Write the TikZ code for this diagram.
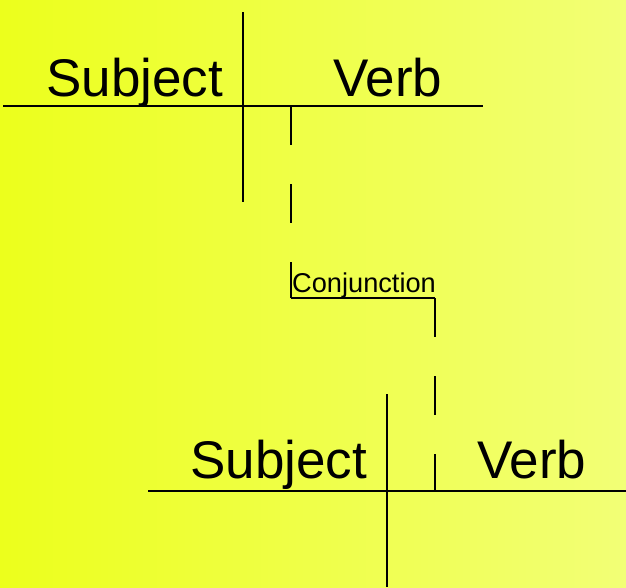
\documentclass[tikz,border=0pt]{standalone}
\usepackage{fontspec}
\setmainfont{Liberation Sans}
\definecolor{bgleft}{RGB}{236,255,28}
\definecolor{bgright}{RGB}{242,255,118}
\tikzset{
  rule/.style={line width=1.1pt, black},
  dashrule/.style={line width=1.1pt, black, dash pattern=on 39pt off 39pt},
  bigword/.style={inner sep=0pt, anchor=base west, font=\fontsize{53}{60}\selectfont},
  smallword/.style={inner sep=0pt, anchor=base west, font=\fontsize{27.2}{30}\selectfont},
}
\begin{document}
\begin{tikzpicture}[x=1pt,y=-1pt]
\useasboundingbox (0,0) rectangle (626,587);
\shade[left color=bgleft, right color=bgright] (0,0) rectangle (626,587);
% texts
\node[bigword] (s1) at (46,96) {Subject};
\node[bigword] (v1) at (333,96) {Verb};
\node[smallword] (cj) at (292,292) {Conjunction};
\node[bigword] (s2) at (190,478) {Subject};
\node[bigword] (v2) at (477,478) {Verb};
% coordinates
\coordinate (h1a) at (3,106);
\coordinate (h1b) at (483,106);
\coordinate (d1a) at (243,12);
\coordinate (d1b) at (243,202);
\coordinate (c1) at (291,106);
\coordinate (c2) at (291,298);
\coordinate (c3) at (435,298);
\coordinate (c4) at (435,491);
\coordinate (h2a) at (148,491);
\coordinate (h2b) at (626,491);
\coordinate (d2a) at (387,394);
\coordinate (d2b) at (387,587);
% lines
\draw[rule] (h1a) -- (h1b);
\draw[rule] (d1a) -- (d1b);
\draw[dashrule] (c1) -- (c2);
\draw[rule] (c2) -- (c3);
\draw[dashrule] (c3) -- (c4);
\draw[rule] (h2a) -- (h2b);
\draw[rule] (d2a) -- (d2b);
\end{tikzpicture}
\end{document}
